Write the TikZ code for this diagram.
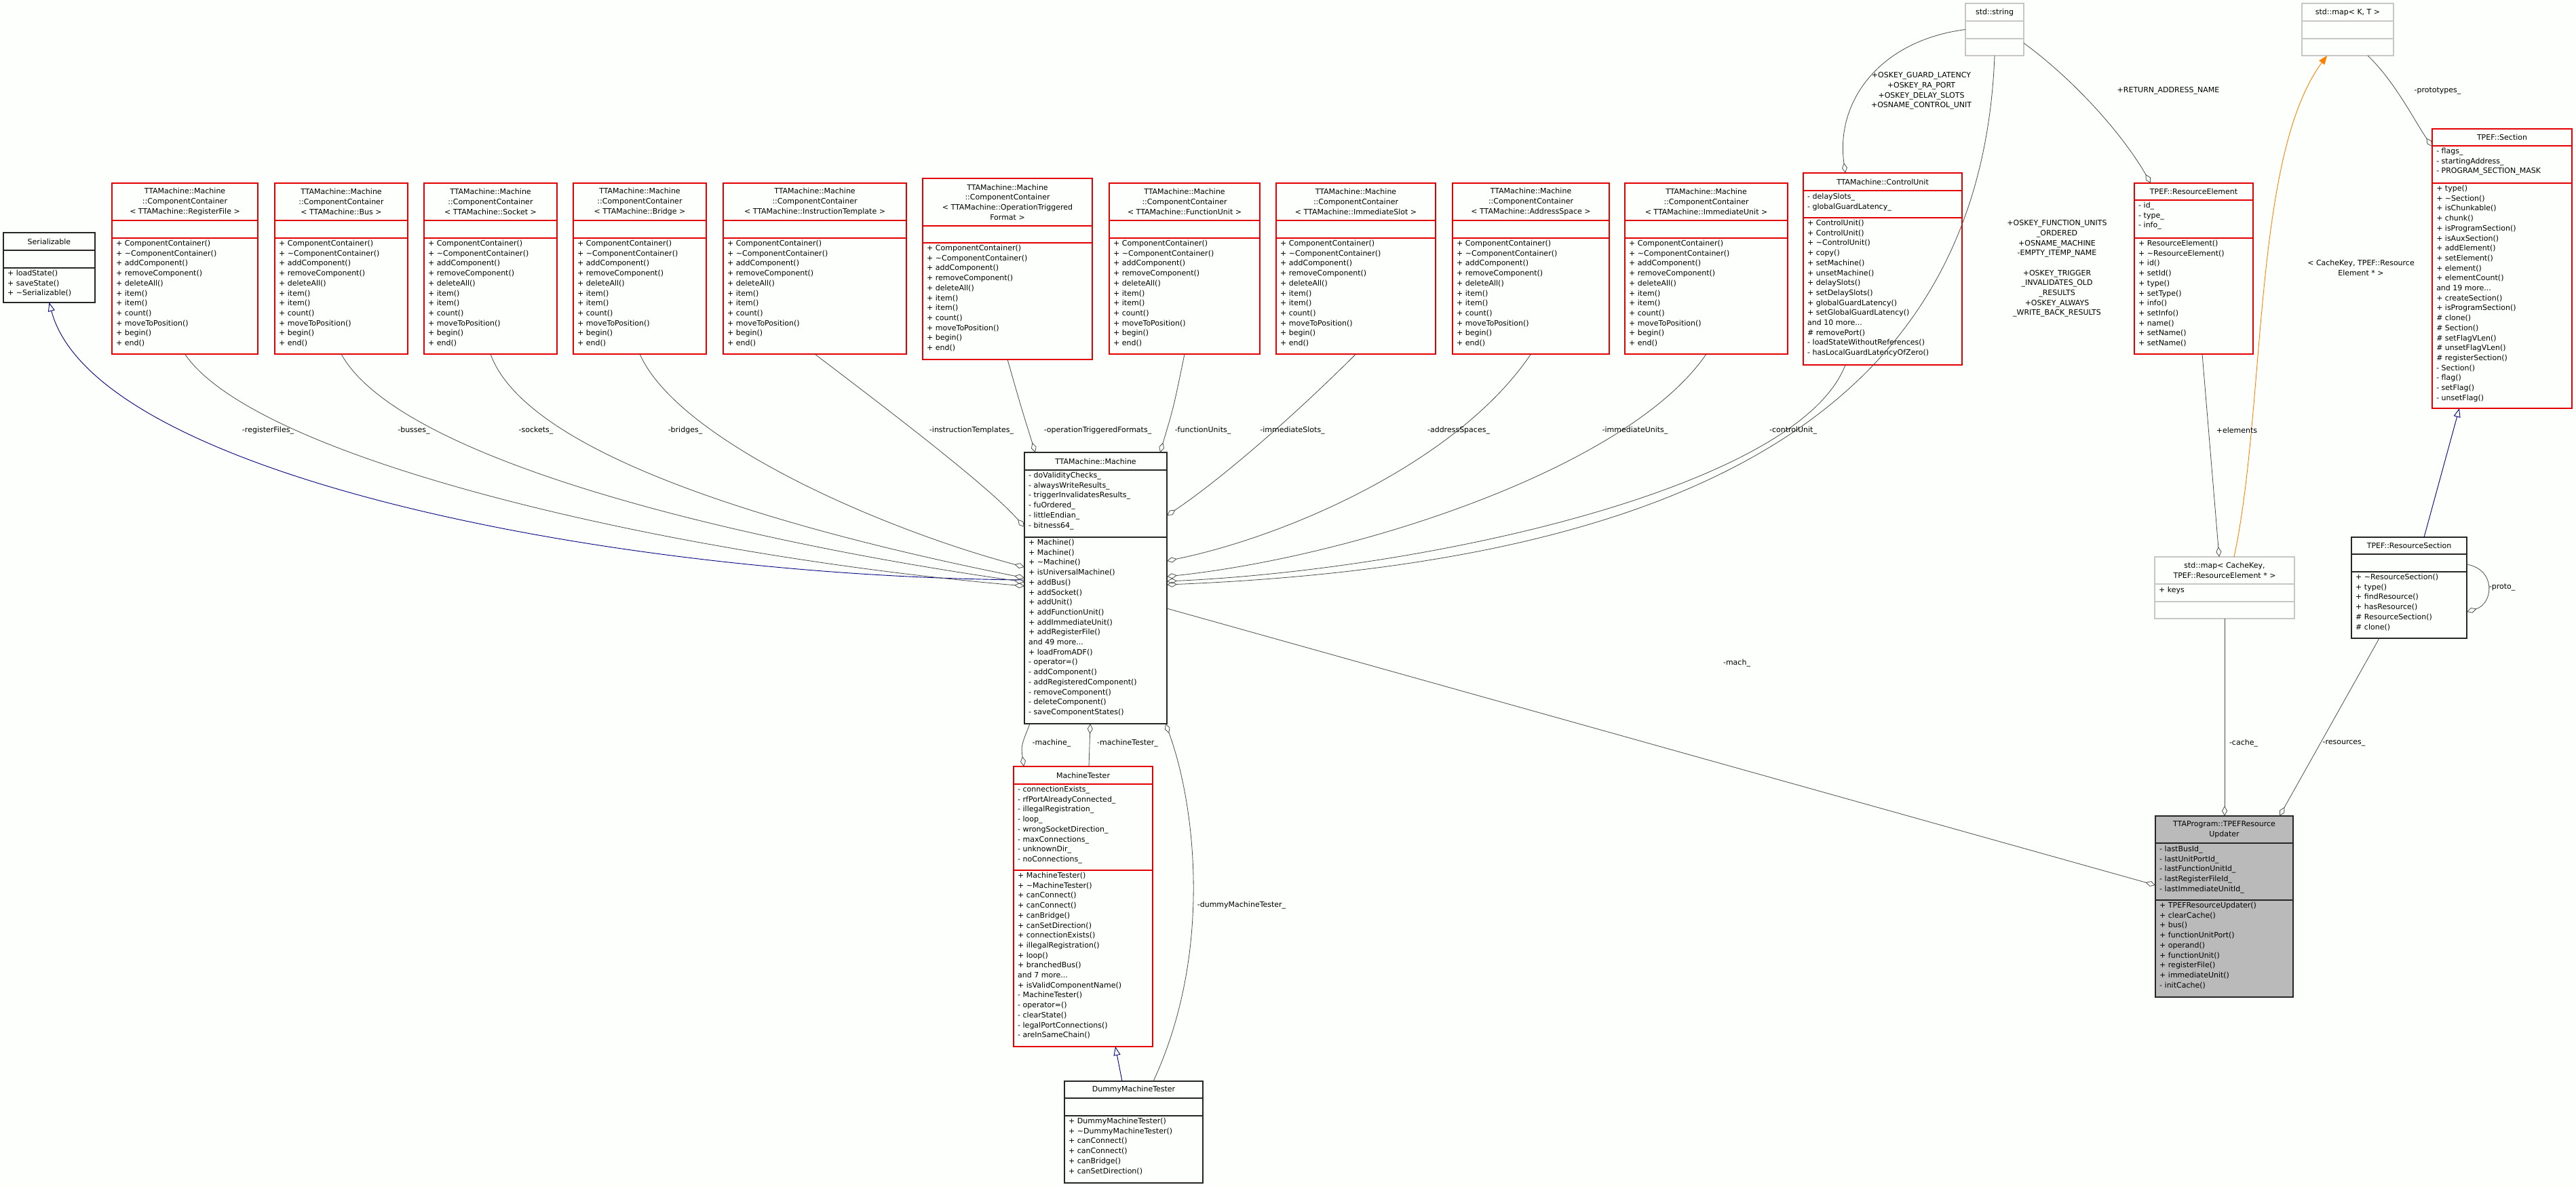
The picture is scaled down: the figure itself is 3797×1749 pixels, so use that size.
\documentclass[tikz,border=0pt]{standalone}
\usepackage{fontspec}
\setmainfont{DejaVu Sans}
\usetikzlibrary{arrows.meta,calc}
\newcommand\cls[9]{%
 \draw[#8] (#2,#3) rectangle (#4,#5);
 \draw[#8,fill=none] (#2,#6) -- (#4,#6) (#2,#7) -- (#4,#7);
 \node[hdr] at ({(#2+#4)/2},{(#3+#6)/2}) {#9};
 \node[inner sep=0,outer sep=0,minimum width={(#4-#2)*1pt},minimum height={(#5-#3)*1pt}] (#1) at ({(#2+#4)/2},{(#3+#5)/2}) {};}
\newcommand\lines[3]{\node[txt] at (#1,#2) {#3};}
\newcommand\tl{\textasciitilde}
\newcommand\cc{+ ComponentContainer()\\+ \tl ComponentContainer()\\+ addComponent()\\+ removeComponent()\\+ deleteAll()\\+ item()\\+ item()\\+ count()\\+ moveToPosition()\\+ begin()\\+ end()}
\begin{document}
\begin{tikzpicture}[x=1pt,y=-1pt,
 hdr/.style={font=\fontsize{11}{14.7}\selectfont,align=center,inner sep=0},
 txt/.style={font=\fontsize{11}{14.7}\selectfont,align=left,anchor=north west,inner sep=0},
 lab/.style={font=\fontsize{11}{14.7}\selectfont,align=center,inner sep=1pt,fill=white,fill opacity=0,text opacity=1},
 redbox/.style={draw=red!85!black!70!red,line width=1.3pt},
 blkbox/.style={draw=black!85,line width=1.3pt},
 grybox/.style={draw=black!22,line width=1.3pt},
 selbox/.style={draw=black!85,line width=1.3pt,fill=black!27},
 ed/.style={draw=black!70,line width=0.8pt},
 inh/.style={draw=blue!50!black,line width=0.9pt},
 dia/.tip={Diamond[open,length=15pt,width=8pt,line width=0.8pt]},
 tri/.tip={Triangle[open,length=13pt,width=10pt,line width=0.9pt]}]
\useasboundingbox (0,0) rectangle (3797,1749);
\fill[white!98!green!50!white] (0,0) rectangle (3797,1749);
% Serializable
\cls{ser}{5}{343}{140}{446}{369}{395}{blkbox}{Serializable}
\lines{11}{398}{+ loadState()\\+ saveState()\\+ \tl Serializable()}
% containers
\cls{crf}{165}{270}{380}{522}{325}{351}{redbox}{TTAMachine::Machine\\::ComponentContainer\\< TTAMachine::RegisterFile >}
\lines{171}{354}{\cc}
\cls{cbus}{405}{270}{601}{522}{325}{351}{redbox}{TTAMachine::Machine\\::ComponentContainer\\< TTAMachine::Bus >}
\lines{411}{354}{\cc}
\cls{csock}{625}{270}{821}{522}{325}{351}{redbox}{TTAMachine::Machine\\::ComponentContainer\\< TTAMachine::Socket >}
\lines{631}{354}{\cc}
\cls{cbr}{845}{270}{1041}{522}{325}{351}{redbox}{TTAMachine::Machine\\::ComponentContainer\\< TTAMachine::Bridge >}
\lines{851}{354}{\cc}
\cls{cit}{1066}{270}{1336}{522}{325}{351}{redbox}{TTAMachine::Machine\\::ComponentContainer\\< TTAMachine::InstructionTemplate >}
\lines{1072}{354}{\cc}
\cls{cotf}{1360}{263}{1610}{530}{333}{358}{redbox}{TTAMachine::Machine\\::ComponentContainer\\< TTAMachine::OperationTriggered\\Format >}
\lines{1366}{361}{\cc}
\cls{cfu}{1635}{270}{1857}{522}{325}{351}{redbox}{TTAMachine::Machine\\::ComponentContainer\\< TTAMachine::FunctionUnit >}
\lines{1641}{354}{\cc}
\cls{cis}{1881}{270}{2116}{522}{325}{351}{redbox}{TTAMachine::Machine\\::ComponentContainer\\< TTAMachine::ImmediateSlot >}
\lines{1887}{354}{\cc}
\cls{cas}{2141}{270}{2372}{522}{325}{351}{redbox}{TTAMachine::Machine\\::ComponentContainer\\< TTAMachine::AddressSpace >}
\lines{2147}{354}{\cc}
\cls{ciu}{2395}{270}{2635}{522}{325}{351}{redbox}{TTAMachine::Machine\\::ComponentContainer\\< TTAMachine::ImmediateUnit >}
\lines{2401}{354}{\cc}
\cls{cu}{2658}{255}{2892}{538}{281}{321}{redbox}{TTAMachine::ControlUnit}
\lines{2664}{285}{- delaySlots\_\\- globalGuardLatency\_}
\lines{2664}{324}{+ ControlUnit()\\+ ControlUnit()\\+ \tl ControlUnit()\\+ copy()\\+ setMachine()\\+ unsetMachine()\\+ delaySlots()\\+ setDelaySlots()\\+ globalGuardLatency()\\+ setGlobalGuardLatency()\\and 10 more...\\\# removePort()\\- loadStateWithoutReferences()\\- hasLocalGuardLatencyOfZero()}
% std::string, maps
\cls{str}{2897}{5}{2983}{82}{31}{57}{grybox}{std::string}
\cls{mapkt}{3393}{5}{3528}{82}{31}{57}{grybox}{std::map< K, T >}
% Machine
\cls{mach}{1510}{667}{1720}{1067}{693}{792}{blkbox}{TTAMachine::Machine}
\lines{1516}{696}{- doValidityChecks\_\\- alwaysWriteResults\_\\- triggerInvalidatesResults\_\\- fuOrdered\_\\- littleEndian\_\\- bitness64\_}
\lines{1516}{795}{+ Machine()\\+ Machine()\\+ \tl Machine()\\+ isUniversalMachine()\\+ addBus()\\+ addSocket()\\+ addUnit()\\+ addFunctionUnit()\\+ addImmediateUnit()\\+ addRegisterFile()\\and 49 more...\\+ loadFromADF()\\- operator=()\\- addComponent()\\- addRegisteredComponent()\\- removeComponent()\\- deleteComponent()\\- saveComponentStates()}
% MachineTester
\cls{mt}{1494}{1130}{1699}{1543}{1156}{1283}{redbox}{MachineTester}
\lines{1500}{1159}{- connectionExists\_\\- rfPortAlreadyConnected\_\\- illegalRegistration\_\\- loop\_\\- wrongSocketDirection\_\\- maxConnections\_\\- unknownDir\_\\- noConnections\_}
\lines{1500}{1286}{+ MachineTester()\\+ \tl MachineTester()\\+ canConnect()\\+ canConnect()\\+ canBridge()\\+ canSetDirection()\\+ connectionExists()\\+ illegalRegistration()\\+ loop()\\+ branchedBus()\\and 7 more...\\+ isValidComponentName()\\- MachineTester()\\- operator=()\\- clearState()\\- legalPortConnections()\\- areInSameChain()}
\cls{dmt}{1569}{1594}{1773}{1744}{1619}{1645}{blkbox}{DummyMachineTester}
\lines{1575}{1648}{+ DummyMachineTester()\\+ \tl DummyMachineTester()\\+ canConnect()\\+ canConnect()\\+ canBridge()\\+ canSetDirection()}
% TPEF
\cls{rel}{3146}{270}{3321}{522}{295}{351}{redbox}{TPEF::ResourceElement}
\lines{3152}{298}{- id\_\\- type\_\\- info\_}
\lines{3152}{354}{+ ResourceElement()\\+ \tl ResourceElement()\\+ id()\\+ setId()\\+ type()\\+ setType()\\+ info()\\+ setInfo()\\+ name()\\+ setName()\\+ setName()}
\cls{sec}{3585}{190}{3791}{602}{215}{270}{redbox}{TPEF::Section}
\lines{3591}{218}{- flags\_\\- startingAddress\_\\- PROGRAM\_SECTION\_MASK}
\lines{3591}{273}{+ type()\\+ \tl Section()\\+ isChunkable()\\+ chunk()\\+ isProgramSection()\\+ isAuxSection()\\+ addElement()\\+ setElement()\\+ element()\\+ elementCount()\\and 19 more...\\+ createSection()\\+ isProgramSection()\\\# clone()\\\# Section()\\\# setFlagVLen()\\\# unsetFlagVLen()\\\# registerSection()\\- Section()\\- flag()\\- setFlag()\\- unsetFlag()}
\cls{mapck}{3176}{821}{3382}{912}{861}{887}{grybox}{std::map< CacheKey,\\ TPEF::ResourceElement * >}
\lines{3182}{865}{+ keys}
\cls{rsec}{3466}{792}{3636}{941}{817}{843}{blkbox}{TPEF::ResourceSection}
\lines{3472}{846}{+ \tl ResourceSection()\\+ type()\\+ findResource()\\+ hasResource()\\\# ResourceSection()\\\# clone()}
\cls{upd}{3177}{1203}{3380}{1470}{1243}{1327}{selbox}{TTAProgram::TPEFResource\\Updater}
\lines{3183}{1247}{- lastBusId\_\\- lastUnitPortId\_\\- lastFunctionUnitId\_\\- lastRegisterFileId\_\\- lastImmediateUnitId\_}
\lines{3183}{1330}{+ TPEFResourceUpdater()\\+ clearCache()\\+ bus()\\+ functionUnitPort()\\+ operand()\\+ functionUnit()\\+ registerFile()\\+ immediateUnit()\\- initCache()}
% ---------- connectors ----------
\draw[inh,tri-] (ser.south) .. controls (140,700) and (900,850) .. ($(mach.north west)+(0,188)$);
\draw[ed,-dia] (crf.south) .. controls (380,680) and (1000,820) .. ($(mach.north west)+(0,197)$);
\draw[ed,-dia] (cbus.south) .. controls (590,680) and (1100,800) .. ($(mach.north west)+(0,191)$);
\draw[ed,-dia] (csock.south) .. controls (780,680) and (1200,790) .. ($(mach.north west)+(0,185)$);
\draw[ed,-dia] (cbr.south) .. controls (1000,650) and (1300,780) .. ($(mach.north west)+(0,169)$);
\draw[ed,-dia] (cit.south) .. controls (1330,620) and (1460,720) .. ($(mach.north west)+(0,110)$);
\draw[ed,-dia] (cotf.south) .. controls (1505,600) .. ($(mach.north west)+(16,0)$);
\draw[ed,-dia] (cfu.south) .. controls (1730,600) .. ($(mach.north east)+(-10,0)$);
\draw[ed,-dia] (cis.south) .. controls (1880,640) and (1780,720) .. ($(mach.north east)+(0,93)$);
\draw[ed,-dia] (cas.south) .. controls (2150,680) and (1900,790) .. ($(mach.north east)+(0,160)$);
\draw[ed,-dia] (ciu.south) .. controls (2400,690) and (2000,820) .. ($(mach.north east)+(0,183)$);
\draw[ed,-dia] ($(cu.south west)+(62,0)$) .. controls (2650,720) and (2100,840) .. ($(mach.north east)+(0,190)$);
\draw[ed,-dia] ($(str.south west)+(43,0)$) .. controls (2920,600) and (2500,830) .. ($(mach.north east)+(0,195)$);
\draw[ed,-dia] (str.west) .. controls (2770,60) and (2705,150) .. ($(cu.north west)+(62,0)$);
\draw[ed,-dia] ($(str.east)+(0,20)$) .. controls (3060,120) and (3130,200) .. ($(rel.north west)+(24,0)$);
\draw[ed,-dia] ($(mapkt.south west)+(97,0)$) .. controls (3530,120) and (3560,180) .. ($(sec.north west)+(0,26)$);
\draw[ed,-dia] ($(rel.south west)+(100,0)$) -- ($(mapck.north west)+(95,0)$);
\draw[draw=orange,line width=0.9pt,-{Triangle[length=13pt,width=10pt]}] ($(mapck.north west)+(117,0)$) .. controls (3340,600) and (3320,230) .. ($(mapkt.south west)+(37,0)$);
\draw[inh,-tri] ($(rsec.north west)+(107,0)$) -- ($(sec.south west)+(40,0)$);
\draw[ed,-dia] ($(rsec.north east)+(0,40)$) .. controls (3680,840) and (3675,890) .. ($(rsec.north east)+(0,110)$);
\draw[ed,-dia] (mapck.south) -- ($(upd.north west)+(102,0)$);
\draw[ed,-dia] ($(rsec.south west)+(41,0)$) -- ($(upd.north east)+(-20,0)$);
\draw[ed,-dia] ($(mach.north east)+(0,230)$) -- ($(upd.north west)+(0,102)$);
\draw[ed,-dia] ($(mach.south west)+(8,0)$) .. controls (1505,1100) .. ($(mt.north west)+(15,0)$);
\draw[ed,dia-] ($(mach.south west)+(97,0)$) -- ($(mt.north west)+(111,0)$);
\draw[ed,dia-] ($(mach.south east)+(-2,0)$) .. controls (1760,1180) and (1790,1400) .. ($(dmt.north west)+(131,0)$);
\draw[inh,-tri] ($(dmt.north west)+(85,0)$) -- ($(mt.south west)+(150,0)$);
% labels
\node[lab] at (395,635) {-registerFiles\_};
\node[lab] at (610,635) {-busses\_};
\node[lab] at (790,635) {-sockets\_};
\node[lab] at (1010,635) {-bridges\_};
\node[lab] at (1432,635) {-instructionTemplates\_};
\node[lab] at (1618,635) {-operationTriggeredFormats\_};
\node[lab] at (1773,635) {-functionUnits\_};
\node[lab] at (1905,635) {-immediateSlots\_};
\node[lab] at (2150,635) {-addressSpaces\_};
\node[lab] at (2410,635) {-immediateUnits\_};
\node[lab] at (2643,635) {-controlUnit\_};
\node[lab] at (2832,134) {+OSKEY\_GUARD\_LATENCY\\+OSKEY\_RA\_PORT\\+OSKEY\_DELAY\_SLOTS\\+OSNAME\_CONTROL\_UNIT};
\node[lab] at (3032,396) {+OSKEY\_FUNCTION\_UNITS\\\_ORDERED\\+OSNAME\_MACHINE\\-EMPTY\_ITEMP\_NAME\\\\+OSKEY\_TRIGGER\\\_INVALIDATES\_OLD\\\_RESULTS\\+OSKEY\_ALWAYS\\\_WRITE\_BACK\_RESULTS};
\node[lab] at (3196,134) {+RETURN\_ADDRESS\_NAME};
\node[lab] at (3593,134) {-prototypes\_};
\node[lab] at (3480,395) {< CacheKey, TPEF::Resource\\Element * >};
\node[lab] at (3297,634) {+elements};
\node[lab] at (3307,1096) {-cache\_};
\node[lab] at (3455,1096) {-resources\_};
\node[lab] at (3688,866) {-proto\_};
\node[lab] at (2560,978) {-mach\_};
\node[lab] at (1550,1096) {-machine\_};
\node[lab] at (1662,1096) {-machineTester\_};
\node[lab] at (1830,1335) {-dummyMachineTester\_};
\end{tikzpicture}
\end{document}
